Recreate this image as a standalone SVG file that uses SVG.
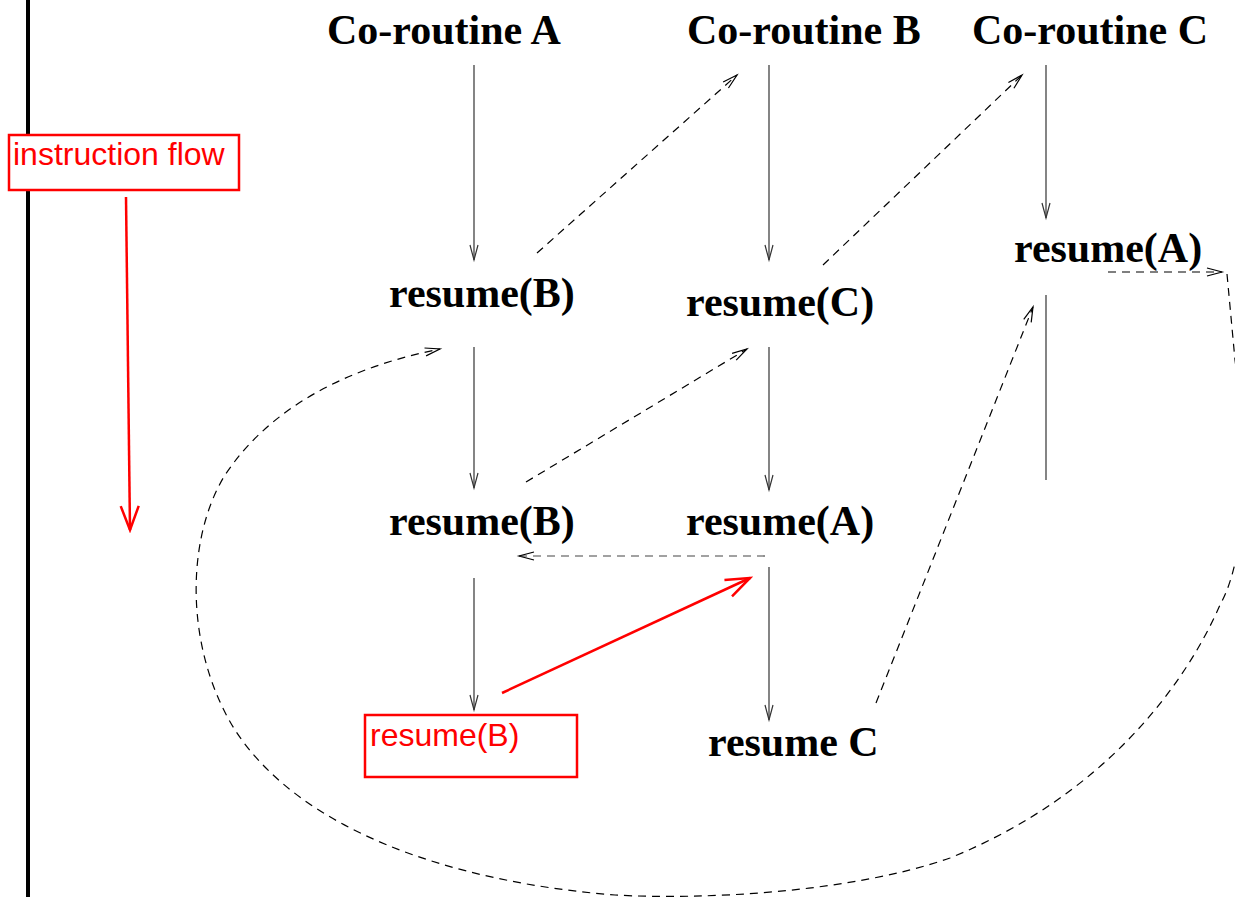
<svg xmlns="http://www.w3.org/2000/svg" width="1235" height="897" viewBox="0 0 1235 897">
<style>
.t{font-family:"Liberation Serif","Times New Roman",serif;font-weight:bold;font-size:42px;fill:#000}
.r{font-family:"Liberation Sans",Arial,sans-serif;font-size:32px;fill:#ff0000}
.s{stroke:#333;stroke-width:1.2;fill:none}
.d{stroke:#000;stroke-width:1.2;fill:none;stroke-dasharray:8 6}
.box{fill:none;stroke:#ff0000;stroke-width:2.5}
.ra{stroke:#ff0000;stroke-width:2.5;fill:none}
</style>
<defs>
<marker id="a" markerWidth="20" markerHeight="12" refX="16" refY="5" orient="auto" markerUnits="userSpaceOnUse">
<path d="M1,1 L16,5 L1,9" fill="none" stroke="#333" stroke-width="1.2"/>
</marker>
<marker id="ad" markerWidth="20" markerHeight="12" refX="16" refY="5" orient="auto" markerUnits="userSpaceOnUse">
<path d="M1,1 L16,5 L1,9" fill="none" stroke="#000" stroke-width="1.2"/>
</marker>
<marker id="ar" markerWidth="28" markerHeight="22" refX="25" refY="11" orient="auto" markerUnits="userSpaceOnUse">
<path d="M1,2 L25,11 L1,20" fill="none" stroke="#ff0000" stroke-width="2.5"/>
</marker>
</defs>
<rect width="1235" height="897" fill="#fff"/>
<line x1="28" y1="0" x2="28" y2="897" stroke="#000" stroke-width="4"/>

<g id="flow">
<rect class="box" x="9" y="135" width="230" height="55" style="fill:#fff"/>
<text class="r" x="13" y="165">instruction flow</text>
</g>

<g id="titleA"><text class="t" x="327" y="44">Co-routine A</text></g>
<g id="titleB"><text class="t" x="687" y="44">Co-routine B</text></g>
<g id="titleC"><text class="t" x="972" y="44">Co-routine C</text></g>

<g id="A1"><text class="t" x="389" y="307">resume(B)</text></g>
<g id="A2"><text class="t" x="389" y="535">resume(B)</text></g>
<g id="A3">
<rect class="box" x="365" y="715" width="212" height="62"/>
<text class="r" x="370" y="746">resume(B)</text>
</g>
<g id="B1"><text class="t" x="686" y="316">resume(C)</text></g>
<g id="B2"><text class="t" x="686" y="535">resume(A)</text></g>
<g id="B3"><text class="t" x="708" y="756">resume C</text></g>
<g id="C1"><text class="t" x="1014" y="262">resume(A)</text></g>

<g id="connectors">
<line class="ra" x1="126" y1="197" x2="130" y2="530" marker-end="url(#ar)"/>
<line class="ra" x1="502" y1="693" x2="750" y2="578" marker-end="url(#ar)"/>

<line class="s" x1="474" y1="65" x2="474" y2="260" marker-end="url(#a)"/>
<line class="s" x1="474" y1="347" x2="474" y2="488" marker-end="url(#a)"/>
<line class="s" x1="474" y1="578" x2="474" y2="710" marker-end="url(#a)"/>
<line class="s" x1="769" y1="65" x2="769" y2="260" marker-end="url(#a)"/>
<line class="s" x1="769" y1="347" x2="769" y2="490" marker-end="url(#a)"/>
<line class="s" x1="769" y1="567" x2="769" y2="720" marker-end="url(#a)"/>
<line class="s" x1="1046" y1="65" x2="1046" y2="218" marker-end="url(#a)"/>
<line class="s" x1="1046" y1="295" x2="1046" y2="480"/>

<line class="d" x1="537" y1="253" x2="737" y2="75" marker-end="url(#ad)"/>
<line class="d" x1="823" y1="265" x2="1022" y2="75" marker-end="url(#ad)"/>
<line class="d" x1="526" y1="482" x2="747" y2="349" marker-end="url(#ad)"/>
<line class="d" x1="765" y1="556" x2="519" y2="556" marker-end="url(#ad)" style="stroke:#444"/>
<line class="d" x1="876" y1="703" x2="1033" y2="307" marker-end="url(#ad)"/>
<line class="d" x1="1108" y1="272" x2="1222" y2="272" marker-end="url(#ad)"/>
<path class="d" d="M1227,274 L1235,360 C1250,470 1245,560 1220,605 C1185,685 1105,795 950,858 C850,893 700,900 615,895 C450,882 300,830 235,730 C185,650 185,540 225,475 C275,400 360,365 440,349" marker-end="url(#ad)"/>
</g>
</svg>
